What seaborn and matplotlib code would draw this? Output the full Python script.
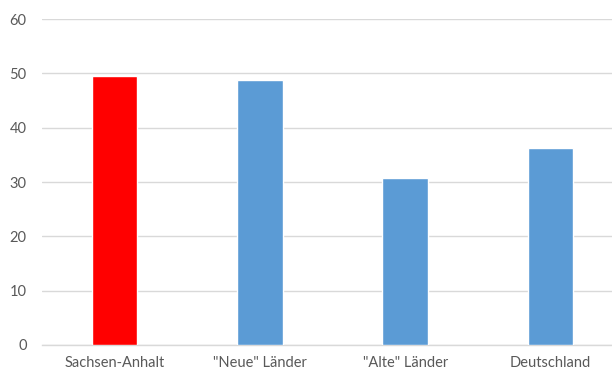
import matplotlib
matplotlib.use("Agg")
import matplotlib.pyplot as plt
import seaborn as sns
import pandas as pd

categories = ["Sachsen-Anhalt", "\"Neue\" Länder", "\"Alte\" Länder", "Deutschland"]
values = [49.6, 48.7, 30.7, 36.3]
colors = ["#FF0000", "#5B9BD5", "#5B9BD5", "#5B9BD5"]
yticks = [0, 10, 20, 30, 40, 50, 60]

sns.set_theme(style="white")
plt.rcParams['font.family'] = ['Lato', 'DejaVu Sans']

df = pd.DataFrame({"cat": categories, "val": values})

fig = plt.figure(figsize=(6.12, 3.72), dpi=100)
ax = fig.add_axes([0.0686, 0.0726, 0.9314, 0.8763])
sns.barplot(data=df, x="cat", y="val", hue="cat", palette=colors, legend=False,
            width=0.313, ax=ax, saturation=1, zorder=3)

ax.set_ylim(0, 60)
ax.set_xlim(-0.5, 3.423)
ax.set_yticks(yticks)
ax.yaxis.grid(True, color="#d9d9d9", linewidth=1, zorder=0)
ax.set_axisbelow(True)
for s in ["top", "right", "left"]:
    ax.spines[s].set_visible(False)
ax.spines["bottom"].set_color("#d9d9d9")
ax.spines["bottom"].set_linewidth(1)
ax.set_xlabel("")
ax.set_ylabel("")
ax.tick_params(axis="both", length=0, labelsize=10.5, colors="#595959")
ax.tick_params(axis="x", pad=8)
ax.tick_params(axis="y", pad=11)

fig.savefig("out.png", dpi=100)
